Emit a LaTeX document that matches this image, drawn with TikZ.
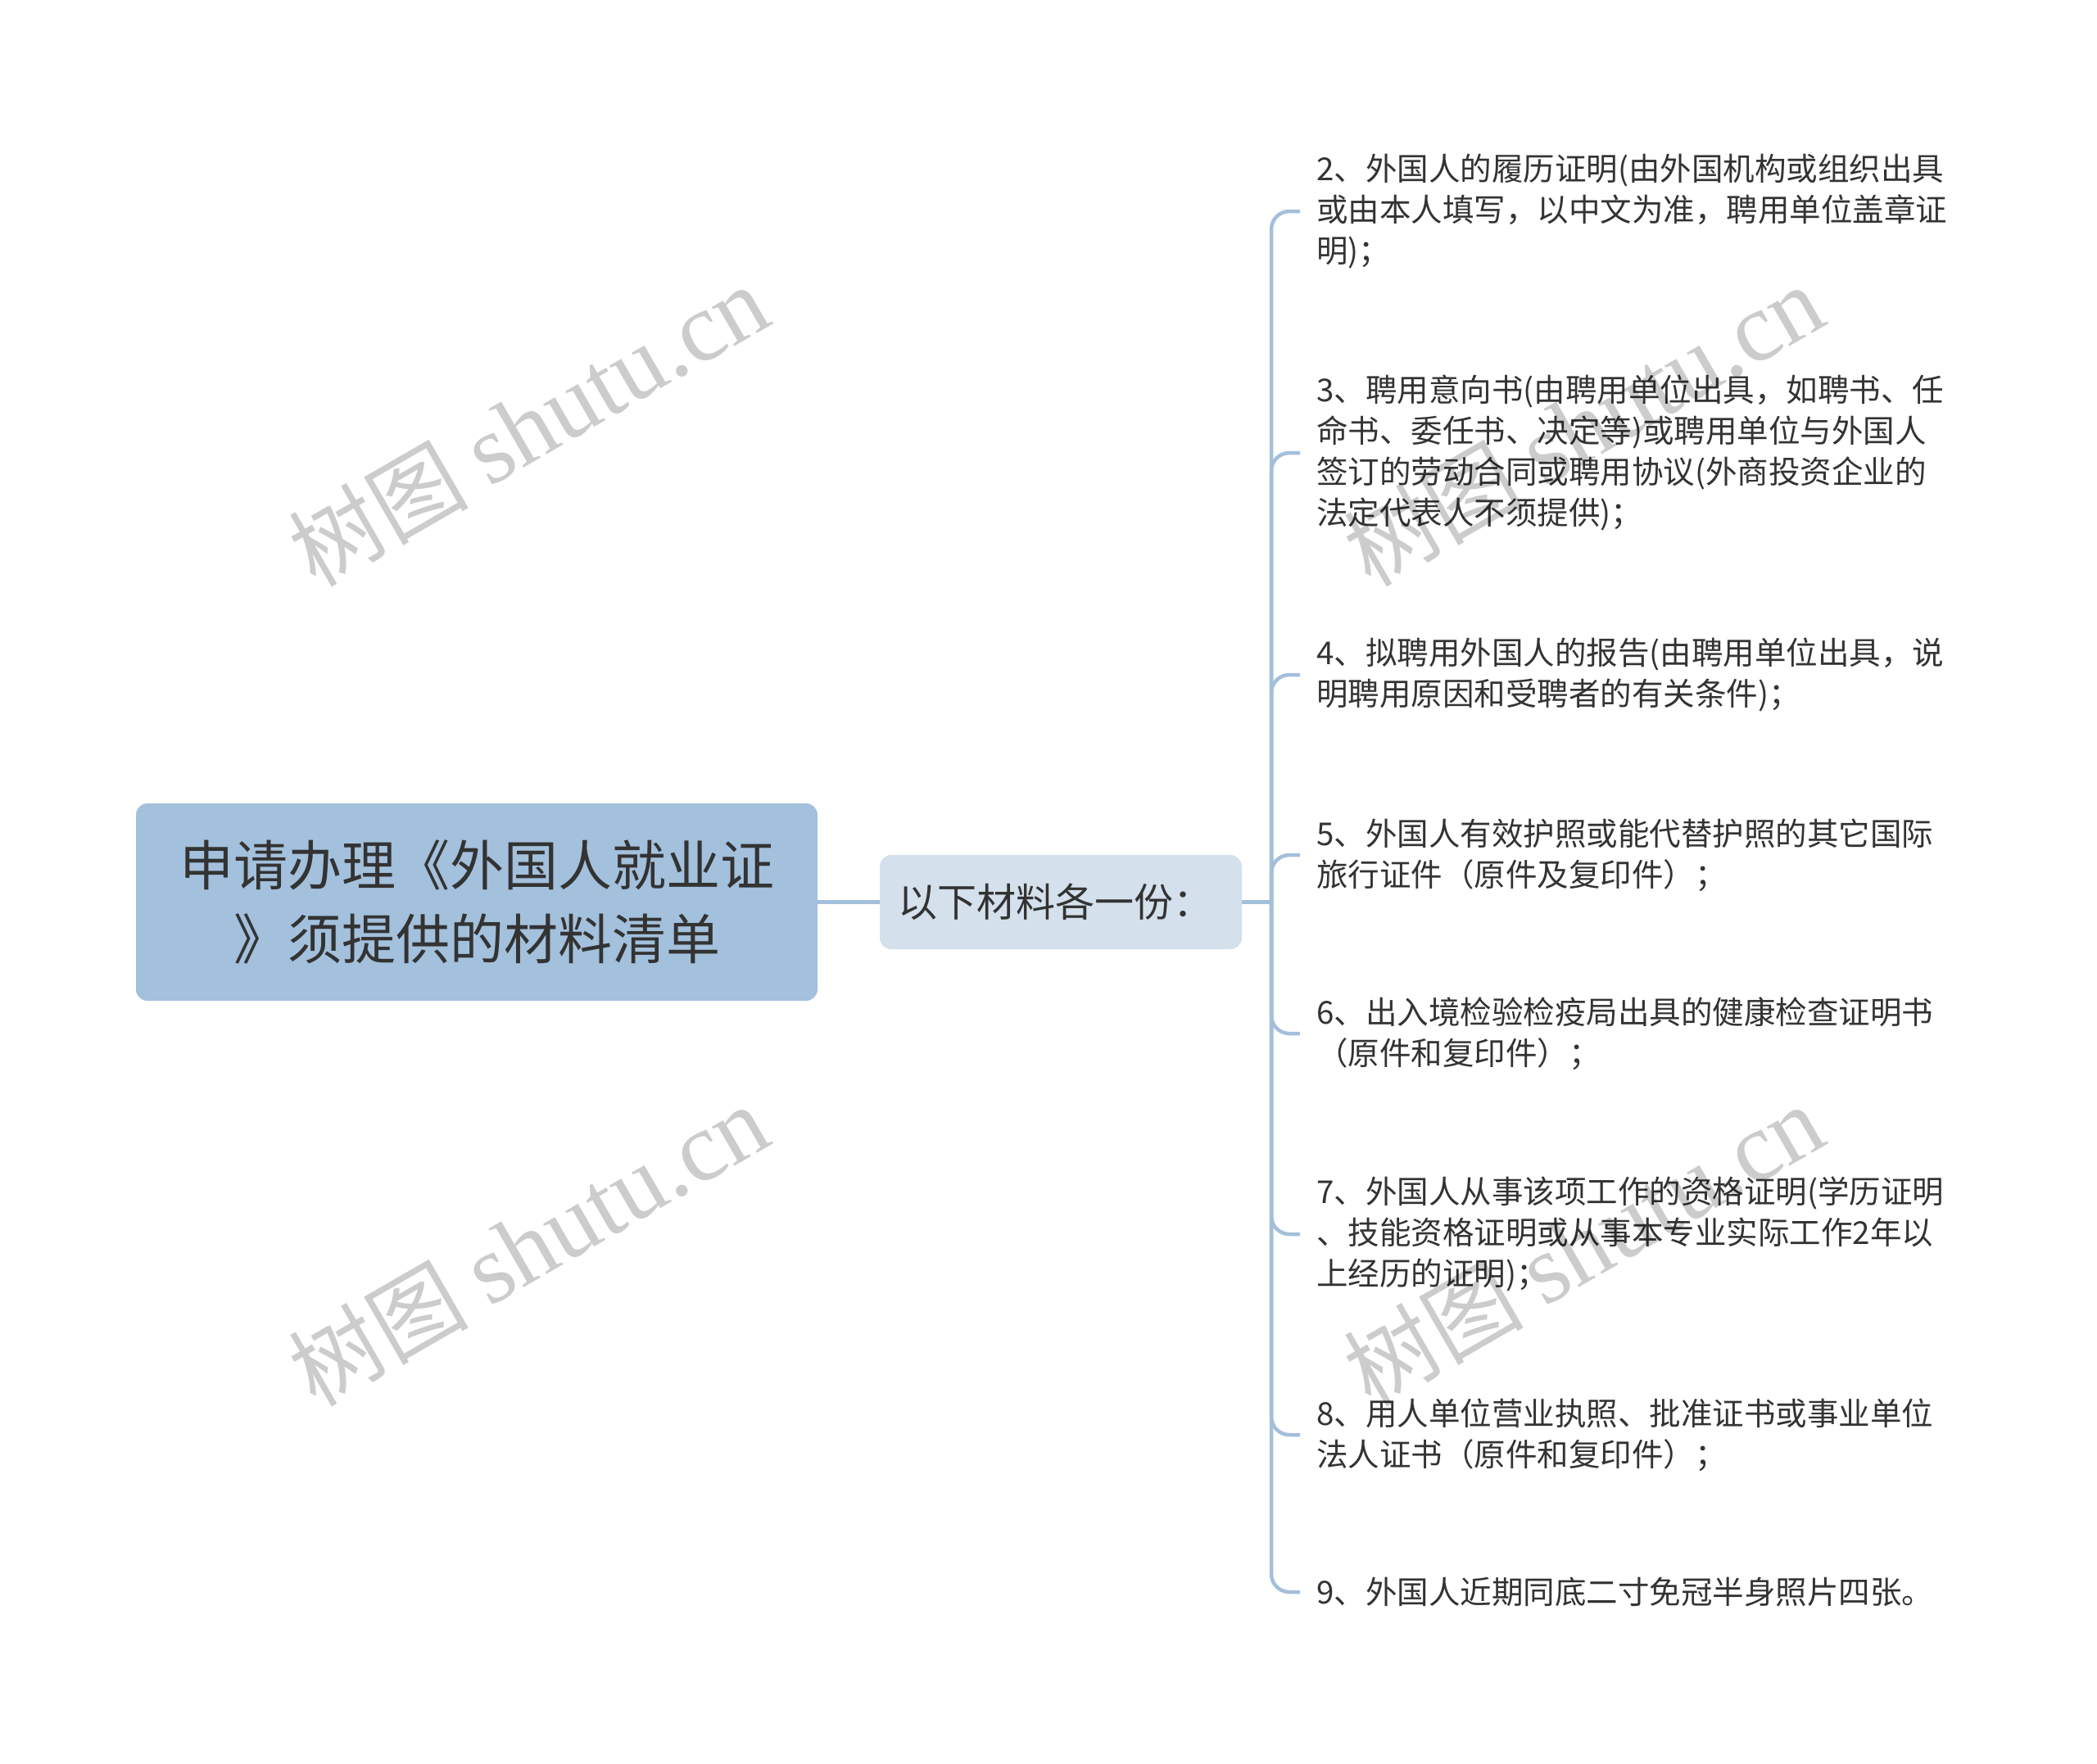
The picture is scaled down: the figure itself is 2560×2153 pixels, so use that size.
\documentclass[tikz,border=0pt]{standalone}
\usepackage{fontspec}
\setmainfont{Noto Sans CJK SC}
\newfontfamily\wmserif{Liberation Serif}
\definecolor{rootfill}{HTML}{A3C0DC}
\definecolor{midfill}{HTML}{D4E0EB}
\definecolor{linecol}{HTML}{A3BFDB}
\definecolor{txt}{HTML}{333333}
\begin{document}
\begin{tikzpicture}[x=1pt,y=-1pt,
 rootbox/.style={fill=rootfill, rounded corners=14pt, minimum width=832pt, minimum height=241pt, align=center, text=txt, font=\fontsize{66}{90}\selectfont, inner sep=0pt},
 midbox/.style={fill=midfill, rounded corners=14pt, text width=398pt, inner xsep=22pt, minimum height=115pt, align=left, text=txt, font=\fontsize{48}{60}\selectfont},
 leaf/.style={anchor=west, align=left, text=txt, font=\fontsize{38.5}{50}\selectfont, inner xsep=20pt, inner ysep=0pt},
 conn/.style={draw=linecol, line width=4.5pt},
 branch/.style={conn, rounded corners=22pt},
 wmark/.style={text=black, text opacity=0.2, rotate=30, inner sep=0pt}]
\useasboundingbox (0,0) rectangle (2560,2153);
\node[rootbox] (root) at (582,1101.5) {申请办理《外国人就业证\\》须提供的材料清单};
\node[midbox] (mid) at (1295,1101.5) {以下材料各一份：};
\node[leaf] (c2) at (1587,258) {2、外国人的履历证明(由外国机构或组织出具\\或由本人填写，以中文为准，聘用单位盖章证\\明)；};
\node[leaf] (c3) at (1587,553) {3、聘用意向书(由聘用单位出具，如聘书、任\\命书、委任书、决定等)或聘用单位与外国人\\签订的劳动合同或聘用协议(外商投资企业的\\法定代表人不须提供)；};
\node[leaf] (c4) at (1587,824) {4、拟聘用外国人的报告(由聘用单位出具，说\\明聘用原因和受聘者的有关条件)；};
\node[leaf] (c5) at (1587,1044) {5、外国人有效护照或能代替护照的其它国际\\旅行证件（原件及复印件）；};
\node[leaf] (c6) at (1587,1262) {6、出入境检验检疫局出具的健康检查证明书\\（原件和复印件）；};
\node[leaf] (c7) at (1587,1507) {7、外国人从事该项工作的资格证明(学历证明\\、技能资格证明或从事本专业实际工作2年以\\上经历的证明)；};
\node[leaf] (c8) at (1587,1752) {8、用人单位营业执照、批准证书或事业单位\\法人证书（原件和复印件）；};
\node[leaf] (c9) at (1587,1944) {9、外国人近期同底二寸免冠半身照片四张。};
\coordinate (hub) at (1552,1101.5);
\draw[conn] (root.east) -- (mid.west);
\draw[conn] (mid.east) -- (hub);
\foreach \c in {c2,c3,c4,c5,c6,c7,c8,c9} \draw[branch] (hub) |- (\c.west);
\foreach \n/\px/\py in {wm1/645/520, wm2/645/1521, wm3/1933/520, wm4/1933/1521}
  \node[wmark] (\n) at (\px,\py) {\fontsize{110}{110}\selectfont 树图 {\wmserif\fontsize{120}{120}\selectfont shutu.cn}};
\end{tikzpicture}
\end{document}
